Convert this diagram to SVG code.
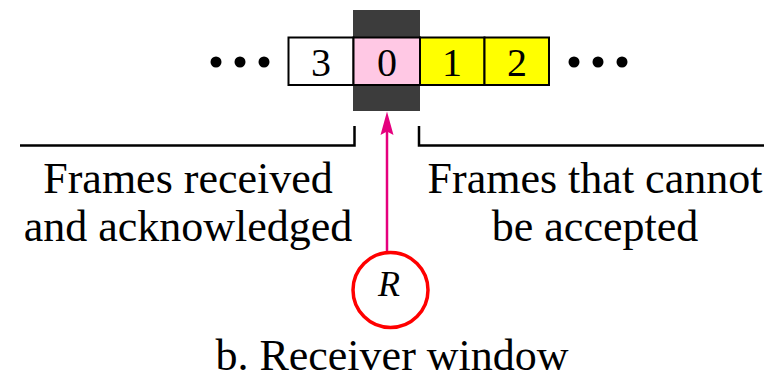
<svg xmlns="http://www.w3.org/2000/svg" width="783" height="380" viewBox="0 0 783 380">
  <style>
    .frame { stroke: #000; stroke-width: 2; }
    .num { font-family: "Liberation Serif", "Times New Roman", serif; font-size: 40px; fill: #000; text-anchor: middle; }
    .label { font-family: "Liberation Serif", "Times New Roman", serif; font-size: 44px; fill: #000; text-anchor: middle; }
    .bracket { fill: none; stroke: #000; stroke-width: 2.5; }
  </style>
  <rect width="783" height="380" fill="#fff"/>

  <!-- receive window shading -->
  <rect id="window" x="353" y="10" width="67" height="101" fill="#3c3c3c"/>

  <!-- sequence number slots -->
  <g id="slot-3">
    <rect class="frame" x="288.5" y="37.5" width="65" height="47.5" fill="#fff"/>
    <text class="num" x="321" y="76">3</text>
  </g>
  <g id="slot-0">
    <rect class="frame" x="353.5" y="37.5" width="66.5" height="47.5" fill="#ffc8e4"/>
    <text class="num" x="387" y="76">0</text>
  </g>
  <g id="slot-1">
    <rect class="frame" x="420" y="37.5" width="64.5" height="47.5" fill="#ffff00"/>
    <text class="num" x="452" y="76">1</text>
  </g>
  <g id="slot-2">
    <rect class="frame" x="484.5" y="37.5" width="64.5" height="47.5" fill="#ffff00"/>
    <text class="num" x="517" y="76">2</text>
  </g>

  <!-- ellipses -->
  <g id="dots-left" fill="#000">
    <circle cx="216" cy="62" r="5.5"/>
    <circle cx="240" cy="62" r="5.5"/>
    <circle cx="264" cy="62" r="5.5"/>
  </g>
  <g id="dots-right" fill="#000">
    <circle cx="574" cy="62" r="5.5"/>
    <circle cx="598" cy="62" r="5.5"/>
    <circle cx="622" cy="62" r="5.5"/>
  </g>

  <!-- region brackets and labels -->
  <g id="received">
    <path class="bracket" d="M20,145.5 H354.5 V126"/>
    <text class="label" x="188" y="193">Frames received</text>
    <text class="label" x="188" y="241">and acknowledged</text>
  </g>
  <g id="not-accepted">
    <path class="bracket" d="M419,126 V145.5 H764"/>
    <text class="label" x="595" y="193">Frames that cannot</text>
    <text class="label" x="595" y="241">be accepted</text>
  </g>

  <!-- receive pointer -->
  <g id="connectors">
    <line x1="387" y1="251" x2="387" y2="128" stroke="#E5007E" stroke-width="2.5"/>
    <path d="M387,111.5 L393.5,135 L387,131.5 L380.5,135 Z" fill="#E5007E"/>
  </g>
  <g id="pointer-R">
    <circle cx="390.5" cy="290" r="37.5" fill="#fff" stroke="#ff0000" stroke-width="3.5"/>
    <text x="389" y="296" font-family="Liberation Serif, serif" font-style="italic" font-size="36" text-anchor="middle" fill="#000">R</text>
  </g>

  <text id="caption" class="label" x="392" y="370">b. Receiver window</text>
</svg>
